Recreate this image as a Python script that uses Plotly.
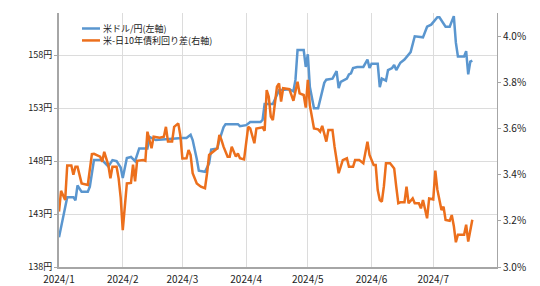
import plotly.graph_objects as go

# USD/JPY (left axis)
usd_dates = ["2024-01-01","2024-01-05","2024-01-08","2024-01-09","2024-01-10","2024-01-12","2024-01-15","2024-01-16",
             "2024-01-18","2024-01-22","2024-01-25","2024-01-27","2024-01-29","2024-01-31","2024-02-01","2024-02-03",
             "2024-02-05","2024-02-07","2024-02-09","2024-02-13","2024-02-14","2024-02-17","2024-03-01","2024-03-03",
             "2024-03-05","2024-03-06","2024-03-08","2024-03-09","2024-03-12","2024-03-14","2024-03-15","2024-03-18",
             "2024-03-19","2024-03-21","2024-03-22","2024-03-28","2024-03-29","2024-04-01","2024-04-03","2024-04-08",
             "2024-04-09","2024-04-10","2024-04-14","2024-04-16","2024-04-17","2024-04-22","2024-04-24","2024-04-25",
             "2024-04-26","2024-04-29","2024-04-30","2024-05-01","2024-05-02","2024-05-04","2024-05-06","2024-05-09",
             "2024-05-10","2024-05-13","2024-05-15","2024-05-16","2024-05-17","2024-05-20","2024-05-21","2024-05-22",
             "2024-05-23","2024-05-25","2024-05-28","2024-05-30","2024-05-31","2024-06-01","2024-06-04","2024-06-05",
             "2024-06-06","2024-06-08","2024-06-09","2024-06-11","2024-06-12","2024-06-13","2024-06-15","2024-06-17",
             "2024-06-20","2024-06-22","2024-06-25","2024-06-26","2024-06-28","2024-06-30","2024-07-03","2024-07-04",
             "2024-07-07","2024-07-09","2024-07-11","2024-07-12","2024-07-13","2024-07-16","2024-07-17","2024-07-18",
             "2024-07-19","2024-07-20"]
usd_jpy = [140.8,144.6,144.6,144.3,145.7,145.1,145.1,145.6,
           148.1,148.1,147.5,148.1,148.0,147.4,146.4,148.3,
           148.4,148.0,149.2,149.2,150.3,150.0,150.2,150.2,
           150.5,150.0,148.2,147.1,147.0,147.8,149.1,149.2,
           150.0,151.2,151.5,151.5,151.3,151.4,151.7,151.7,
           151.9,153.4,153.4,154.3,154.7,154.8,154.6,155.7,
           158.5,158.5,156.9,158.1,155.0,153.0,153.0,155.4,
           155.7,155.8,156.5,154.9,155.5,155.8,156.2,156.3,
           156.8,156.9,156.9,157.6,156.8,157.2,157.2,155.0,
           155.8,155.6,156.6,156.8,157.1,156.6,157.3,157.6,
           158.3,159.8,159.7,159.7,160.7,160.9,161.6,161.6,
           160.7,160.7,161.7,159.2,157.9,157.9,158.4,156.2,
           157.4,157.5]

# US-Japan 10Y yield spread (right axis, %)
spr_dates = ["2024-01-01","2024-01-02","2024-01-04","2024-01-05","2024-01-07","2024-01-08","2024-01-09","2024-01-10",
             "2024-01-12","2024-01-15","2024-01-17","2024-01-18","2024-01-21","2024-01-22","2024-01-23","2024-01-25",
             "2024-01-26","2024-01-27","2024-01-29","2024-01-30","2024-01-31","2024-02-01","2024-02-03","2024-02-05",
             "2024-02-06","2024-02-07","2024-02-08","2024-02-11","2024-02-12","2024-02-13","2024-02-15","2024-02-16",
             "2024-02-19","2024-02-21","2024-02-22","2024-02-23","2024-02-25","2024-02-26","2024-02-28","2024-02-29",
             "2024-03-01","2024-03-03","2024-03-04","2024-03-05","2024-03-06","2024-03-08","2024-03-10","2024-03-12",
             "2024-03-13","2024-03-14","2024-03-18","2024-03-19","2024-03-20","2024-03-21","2024-03-23","2024-03-24",
             "2024-03-25","2024-03-27","2024-03-28","2024-03-29","2024-03-31","2024-04-02","2024-04-03","2024-04-05",
             "2024-04-06","2024-04-09","2024-04-10","2024-04-11","2024-04-12","2024-04-13","2024-04-14","2024-04-16",
             "2024-04-17","2024-04-18","2024-04-19","2024-04-22","2024-04-24","2024-04-26","2024-04-27","2024-04-29",
             "2024-04-30","2024-05-01","2024-05-02","2024-05-03","2024-05-04","2024-05-06","2024-05-07","2024-05-08",
             "2024-05-10","2024-05-11","2024-05-13","2024-05-14","2024-05-16","2024-05-18","2024-05-20","2024-05-21",
             "2024-05-23","2024-05-24","2024-05-26","2024-05-28","2024-05-30","2024-05-31","2024-06-02","2024-06-03",
             "2024-06-04","2024-06-05","2024-06-06","2024-06-07","2024-06-08","2024-06-10","2024-06-12","2024-06-13",
             "2024-06-14","2024-06-15","2024-06-17","2024-06-18","2024-06-19","2024-06-21","2024-06-22","2024-06-24",
             "2024-06-25","2024-06-26","2024-06-28","2024-06-29","2024-07-01","2024-07-02","2024-07-03","2024-07-05",
             "2024-07-06","2024-07-07","2024-07-09","2024-07-10","2024-07-11","2024-07-12","2024-07-13","2024-07-16",
             "2024-07-17","2024-07-18","2024-07-20"]
spread = [3.24,3.33,3.29,3.44,3.44,3.40,3.434,3.434,
          3.362,3.355,3.489,3.49,3.478,3.456,3.499,3.44,
          3.384,3.434,3.434,3.384,3.30,3.16,3.362,3.364,
          3.443,3.371,3.46,3.463,3.46,3.586,3.514,3.564,
          3.56,3.564,3.607,3.543,3.543,3.607,3.622,3.57,
          3.47,3.471,3.507,3.485,3.406,3.362,3.348,3.341,
          3.406,3.485,3.514,3.572,3.55,3.521,3.478,3.478,
          3.521,3.478,3.492,3.471,3.466,3.607,3.60,3.536,
          3.60,3.605,3.59,3.766,3.737,3.651,3.636,3.781,
          3.795,3.716,3.774,3.77,3.72,3.802,3.752,3.745,
          3.69,3.81,3.70,3.65,3.60,3.596,3.586,3.611,
          3.543,3.593,3.593,3.521,3.406,3.463,3.471,3.434,
          3.434,3.463,3.463,3.449,3.543,3.485,3.442,3.442,
          3.333,3.29,3.283,3.35,3.449,3.449,3.427,3.348,
          3.276,3.28,3.28,3.348,3.276,3.297,3.276,3.276,
          3.254,3.29,3.211,3.297,3.293,3.417,3.335,3.247,
          3.261,3.204,3.200,3.225,3.178,3.107,3.14,3.14,
          3.183,3.11,3.205]

month_ticks = ["2024-01-01","2024-02-01","2024-03-01","2024-04-01","2024-05-01","2024-06-01","2024-07-01"]
month_labels = ["2024/1","2024/2","2024/3","2024/4","2024/5","2024/6","2024/7"]
left_ticks = [138, 143, 148, 153, 158]
left_labels = ["138円", "143円", "148円", "153円", "158円"]
right_ticks = [3.0, 3.2, 3.4, 3.6, 3.8, 4.0]
right_labels = ["3.0%", "3.2%", "3.4%", "3.6%", "3.8%", "4.0%"]
legend_names = ["米ドル/円(左軸)", "米-日10年債利回り差(右軸)"]

BLUE = "#5a96cf"
ORANGE = "#ec6f1c"
FONT = "Noto Sans CJK JP, Noto Sans, sans-serif"

fig = go.Figure()
fig.add_trace(go.Scatter(x=usd_dates, y=usd_jpy, mode="lines", name=legend_names[0],
                         line=dict(color=BLUE, width=2.5), yaxis="y"))
fig.add_trace(go.Scatter(x=spr_dates, y=spread, mode="lines", name=legend_names[1],
                         line=dict(color=ORANGE, width=2.5), yaxis="y2"))

fig.update_layout(
    width=540, height=286,
    margin=dict(l=59, r=43, t=13, b=19),
    paper_bgcolor="white", plot_bgcolor="white",
    showlegend=False,
    font=dict(family=FONT, size=10, color="#222"),
    xaxis=dict(type="date", range=["2024-01-01", "2024-08-01"],
               tickvals=month_ticks, ticktext=month_labels,
               showgrid=True, gridcolor="#dcdcdc", gridwidth=1,
               showline=True, linecolor="#a6a6a6", linewidth=2,
               ticks="", zeroline=False, tickfont=dict(size=10),
               ticklabelstandoff=2, automargin=False),
    yaxis=dict(range=[138, 162], tickvals=left_ticks, ticktext=left_labels,
               showgrid=True, gridcolor="#dcdcdc", gridwidth=1,
               showline=True, linecolor="#a6a6a6", linewidth=2,
               ticks="outside", ticklen=3, tickcolor="#a6a6a6",
               zeroline=False, tickfont=dict(size=9), automargin=False),
    yaxis2=dict(range=[3.0, 4.1], tickvals=right_ticks, ticktext=right_labels,
                overlaying="y", side="right", showgrid=False,
                showline=True, linecolor="#a6a6a6", linewidth=1,
                ticks="outside", ticklen=3, tickcolor="#a6a6a6",
                zeroline=False, tickfont=dict(size=10), automargin=False),
)

# manual legend
leg_y = [0.939, 0.892]
for name, color, yy in zip(legend_names, [BLUE, ORANGE], leg_y):
    fig.add_shape(type="line", xref="paper", yref="paper",
                  x0=0.0525, x1=0.0936, y0=yy, y1=yy,
                  line=dict(color=color, width=2.5))
    fig.add_annotation(xref="paper", yref="paper", x=0.0959, y=yy, text=name,
                       showarrow=False, xanchor="left", yanchor="middle",
                       font=dict(size=9, color="#222"))

fig.write_html("out.html")
